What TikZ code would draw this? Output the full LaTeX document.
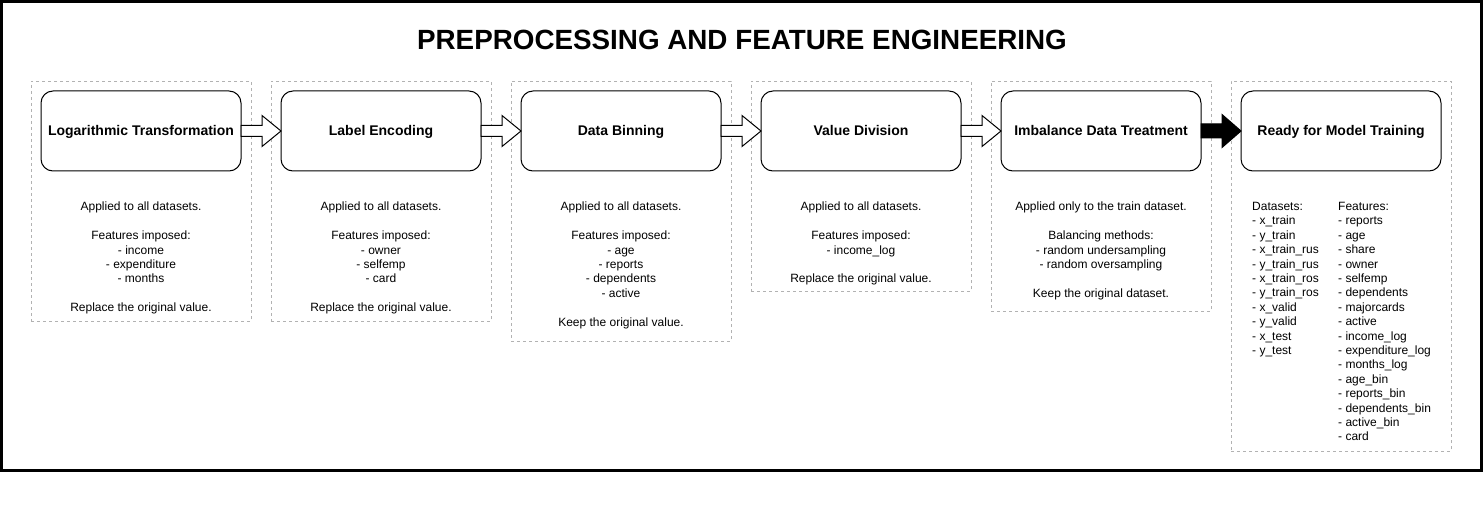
\documentclass[tikz,border=0pt]{standalone}
\usepackage{fontspec}
\setmainfont{Liberation Sans}
\usetikzlibrary{calc}
\definecolor{dashgray}{RGB}{178,178,178}
\tikzset{
  container/.style={draw=dashgray, line width=0.8pt, dash pattern=on 3pt off 3pt, rectangle, minimum width=220pt, inner sep=0pt, outer sep=0pt},
  stepbox/.style={draw=black, line width=1pt, rectangle, rounded corners=12pt, minimum width=200pt, minimum height=80pt, inner sep=0pt, outer sep=0pt, font=\fontsize{14}{16.8}\selectfont\bfseries, text height=10pt, text depth=0.8pt},
  desc/.style={anchor=north, inner sep=0pt, align=center, font=\fontsize{12}{14.4}\selectfont},
  listtext/.style={anchor=north west, inner sep=0pt, align=left, font=\fontsize{12}{14.4}\selectfont},
  hollowarrow/.style={draw=black, fill=white, line width=1pt},
  solidarrow/.style={draw=black, fill=black, line width=1pt}
}
\newcommand\blockarrow[5]{%
  \draw[#1] ($(#2.east)+(0,-#4)$) -- ($(#3.west)+(-19,-#4)$) -- ($(#3.west)+(-19,-#5)$) -- (#3.west)
    -- ($(#3.west)+(-19,#5)$) -- ($(#3.west)+(-19,#4)$) -- ($(#2.east)+(0,#4)$) -- cycle;}
\begin{document}
\begin{tikzpicture}[x=1pt, y=-1pt]
\useasboundingbox (0,0) rectangle (1484,524);
\draw[line width=3pt] (1.5,1.5) rectangle (1481,470);

\node[inner sep=0pt, font=\fontsize{27.8}{33}\selectfont\bfseries] (title) at (742,40) {PREPROCESSING AND FEATURE ENGINEERING};

% containers
\node[container, minimum height=240pt] (c1) at (141,201) {};
\node[container, minimum height=240pt] (c2) at (381,201) {};
\node[container, minimum height=260pt] (c3) at (621,211) {};
\node[container, minimum height=210pt] (c4) at (861,186) {};
\node[container, minimum height=230pt] (c5) at (1101,196) {};
\node[container, minimum height=370pt] (c6) at (1341,266) {};

% step boxes
\node[stepbox] (b1) at (141,131) {Logarithmic Transformation};
\node[stepbox] (b2) at (381,131) {Label Encoding};
\node[stepbox] (b3) at (621,131) {Data Binning};
\node[stepbox] (b4) at (861,131) {Value Division};
\node[stepbox] (b5) at (1101,131) {Imbalance Data Treatment};
\node[stepbox] (b6) at (1341,131) {Ready for Model Training};

% arrows
\blockarrow{hollowarrow}{b1}{b2}{5.5}{15.5}
\blockarrow{hollowarrow}{b2}{b3}{5.5}{15.5}
\blockarrow{hollowarrow}{b3}{b4}{5.5}{15.5}
\blockarrow{hollowarrow}{b4}{b5}{5.5}{15.5}
\blockarrow{solidarrow}{b5}{b6}{7}{16.5}

% descriptions
\node[desc] (d1) at (141,202) {Applied to all datasets.\\[14.4pt]Features imposed:\\- income\\- expenditure\\- months\\[14.4pt]Replace the original value.};
\node[desc] (d2) at (381,202) {Applied to all datasets.\\[14.4pt]Features imposed:\\- owner\\- selfemp\\- card\\[14.4pt]Replace the original value.};
\node[desc] (d3) at (621,202) {Applied to all datasets.\\[14.4pt]Features imposed:\\- age\\- reports\\- dependents\\- active\\[14.4pt]Keep the original value.};
\node[desc] (d4) at (861,202) {Applied to all datasets.\\[14.4pt]Features imposed:\\- income\_log\\[14.4pt]Replace the original value.};
\node[desc] (d5) at (1101,202) {Applied only to the train dataset.\\[14.4pt]Balancing methods:\\- random undersampling\\- random oversampling\\[14.4pt]Keep the original dataset.};

\node[listtext] (ds) at (1252,202) {Datasets:\\- x\_train\\- y\_train\\- x\_train\_rus\\- y\_train\_rus\\- x\_train\_ros\\- y\_train\_ros\\- x\_valid\\- y\_valid\\- x\_test\\- y\_test};
\node[listtext] (ft) at (1338,202) {Features:\\- reports\\- age\\- share\\- owner\\- selfemp\\- dependents\\- majorcards\\- active\\- income\_log\\- expenditure\_log\\- months\_log\\- age\_bin\\- reports\_bin\\- dependents\_bin\\- active\_bin\\- card};
\end{tikzpicture}
\end{document}
